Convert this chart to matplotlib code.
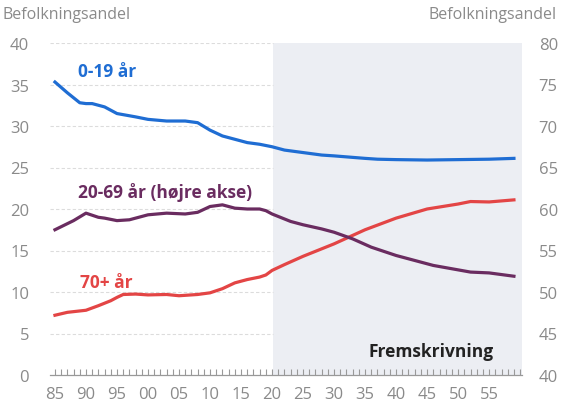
import matplotlib.pyplot as plt
import numpy as np

plt.rcParams['font.family'] = ['Open Sans', 'DejaVu Sans']

# 0-19 år, venstre akse
yr_young = [1985, 1987, 1989, 1990, 1991, 1993, 1995, 1998, 2000, 2003, 2006, 2008,
            2010, 2012, 2014, 2016, 2018, 2020, 2022, 2025, 2028, 2030, 2035, 2037,
            2040, 2045, 2050, 2055, 2059]
young = [35.3, 34.0, 32.8, 32.7, 32.7, 32.3, 31.5, 31.1, 30.8, 30.6, 30.6, 30.4,
         29.5, 28.8, 28.4, 28.0, 27.8, 27.5, 27.1, 26.8, 26.5, 26.4, 26.1, 26.0,
         25.95, 25.9, 25.95, 26.0, 26.1]

# 20-69 år, højre akse
yr_mid = [1985, 1988, 1990, 1992, 1993, 1995, 1997, 2000, 2003, 2006, 2008, 2010,
          2012, 2014, 2016, 2018, 2019, 2020, 2022, 2023, 2025, 2028, 2030, 2033,
          2036, 2040, 2043, 2046, 2049, 2052, 2055, 2059]
mid = [57.5, 58.6, 59.5, 59.0, 58.9, 58.6, 58.7, 59.3, 59.5, 59.4, 59.6, 60.3,
       60.5, 60.1, 60.0, 60.0, 59.8, 59.4, 58.8, 58.5, 58.1, 57.6, 57.2, 56.4,
       55.4, 54.4, 53.8, 53.2, 52.8, 52.4, 52.3, 51.9]

# 70+ år, venstre akse
yr_old = [1985, 1987, 1990, 1992, 1994, 1995, 1996, 1998, 2000, 2003, 2005, 2008,
          2010, 2012, 2014, 2016, 2018, 2019, 2020, 2022, 2025, 2030, 2035, 2040,
          2045, 2050, 2052, 2055, 2059]
old = [7.2, 7.55, 7.8, 8.35, 8.95, 9.35, 9.7, 9.75, 9.65, 9.7, 9.55, 9.7,
       9.9, 10.4, 11.1, 11.5, 11.8, 12.05, 12.6, 13.3, 14.3, 15.8, 17.5, 18.9,
       20.0, 20.6, 20.9, 20.85, 21.1]

fig = plt.figure(figsize=(5.65, 4.10), dpi=100)
ax = fig.add_axes([50 / 565, 34 / 410, 472 / 565, 332 / 410])
ax2 = ax.twinx()

x0, x1 = 1984.2, 2060.3
ax.set_xlim(x0, x1)
ax.set_ylim(0, 40)
ax2.set_ylim(40, 80)

# fremskrivning-område
ax.axvspan(2020.2, x1, color='#eceef3', zorder=0, lw=0)

# stiplede gitterlinjer i den historiske del
ax.hlines(np.arange(5, 45, 5), x0, 2020.2, colors='#dcdcdc', linestyles=(0, (3, 2)),
          lw=0.8, zorder=1)

ax.plot(yr_young, young, color='#1f6dd3', lw=2.3, zorder=3)
ax.plot(yr_old, old, color='#e34545', lw=2.3, zorder=3)
ax2.plot(yr_mid, mid, color='#6a2c60', lw=2.3, zorder=3)

for a in (ax, ax2):
    for s in a.spines.values():
        s.set_visible(False)
ax.spines['bottom'].set_visible(True)
ax.spines['bottom'].set_color('#999999')
ax.spines['bottom'].set_linewidth(0.9)

ax.set_xticks(np.arange(1985, 2060, 5))
ax.set_xticklabels(['85', '90', '95', '00', '05', '10', '15', '20', '25', '30',
                    '35', '40', '45', '50', '55'])
ax.set_xticks(np.arange(1985, 2061, 1), minor=True)
ax.tick_params(axis='x', which='both', direction='in', length=4, width=0.8,
               color='#999999', labelsize=12, labelcolor='#8a8a8a', pad=8)
ax.set_yticks(np.arange(0, 45, 5))
ax.tick_params(axis='y', length=0, labelsize=12, labelcolor='#8a8a8a', pad=15)
ax2.set_yticks(np.arange(40, 85, 5))
ax2.tick_params(axis='y', length=0, labelsize=12, labelcolor='#8a8a8a', pad=12)

fig.text(2 / 565, 1 - 15 / 410, 'Befolkningsandel', fontsize=11.5, color='#8a8a8a',
         va='center', ha='left')
fig.text(557 / 565, 1 - 15 / 410, 'Befolkningsandel', fontsize=11.5, color='#8a8a8a',
         va='center', ha='right')

ax.text(1988.7, 36.6, '0-19 år', color='#1f6dd3', fontsize=12.5, fontweight='bold',
        va='center')
ax.text(1988.7, 22.1, '20-69 år (højre akse)', color='#6a2c60', fontsize=12.5,
        fontweight='bold', va='center')
ax.text(1989.0, 11.2, '70+ år', color='#e34545', fontsize=12.5, fontweight='bold',
        va='center')
ax.text(2055.8, 2.9, 'Fremskrivning', color='#222222', fontsize=12.5,
        fontweight='bold', va='center', ha='right')

fig.savefig('out.png', dpi=100)
